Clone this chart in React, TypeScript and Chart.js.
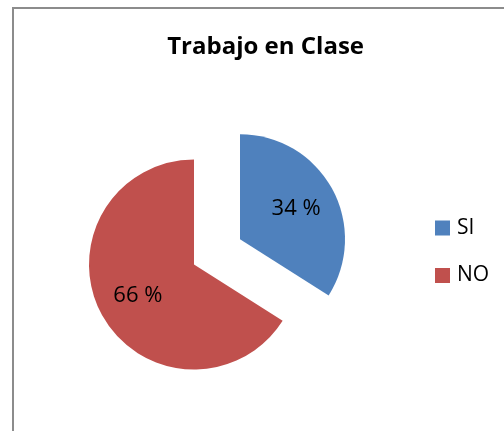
import React, { useEffect, useRef } from "react";
import { Chart, registerables } from "chart.js";

Chart.register(...registerables);

const chartTitle = "Trabajo en Clase";
const categories = ["SI", "NO"];
const values = [34, 66];
const colors = ["#4F81BD", "#C0504D"];
const explode = [210, 0];

const W = 504;
const H = 431;
const FONT = "'Open Sans', 'Noto Sans', 'DejaVu Sans', sans-serif";

// Keep an exploded slice at the same radius and angle as the rest of the pie
const explodeFix = {
  id: "explodeFix",
  afterDatasetsUpdate(chart: any) {
    chart.data.datasets.forEach((_ds: any, di: number) => {
      const meta = chart.getDatasetMeta(di);
      const R = meta.controller.outerRadius;
      meta.data.forEach((arc: any) => {
        const off = (arc.options.offset || 0) / 4;
        if (!off) return;
        const circ = arc.endAngle - arc.startAngle;
        const fix = 1 - Math.sin(Math.min(Math.PI, circ));
        const ro = off * fix;
        arc.outerRadius = R - ro;
        const a = ro / (Math.PI * R) / 2;
        arc.startAngle -= a;
        arc.endAngle += a;
      });
    });
  },
};

const sliceLabels = {
  id: "sliceLabels",
  afterDatasetsDraw(chart: any) {
    const meta = chart.getDatasetMeta(0);
    const ctx = chart.ctx;
    const R = meta.controller.outerRadius;
    meta.data.forEach((arc: any, i: number) => {
      const mid = (arc.startAngle + arc.endAngle) / 2;
      const off = (arc.options.offset || 0) / 4;
      const d = off + R * 0.61;
      const x = arc.x + Math.cos(mid) * d;
      const y = arc.y + Math.sin(mid) * d;
      ctx.save();
      ctx.font = `22px ${FONT}`;
      ctx.fillStyle = "#000";
      ctx.textAlign = "center";
      ctx.textBaseline = "middle";
      ctx.fillText(`${values[i]} %`, x, y);
      ctx.restore();
    });
  },
};

const sideLegend = {
  id: "sideLegend",
  afterDraw(chart: any) {
    const ctx = chart.ctx;
    const ca = chart.chartArea;
    const lx = ca.right + 71;
    const cy = (ca.top + ca.bottom) / 2;
    categories.forEach((c, i) => {
      const yc = cy - 36.5 + i * 47.5;
      ctx.save();
      ctx.fillStyle = colors[i];
      ctx.fillRect(lx, yc - 7.5, 15, 15);
      ctx.fillStyle = "#000";
      ctx.font = `21px ${FONT}`;
      ctx.textAlign = "left";
      ctx.textBaseline = "middle";
      ctx.fillText(c, lx + 22, yc);
      ctx.restore();
    });
  },
};

export default function App() {
  const ref = useRef<HTMLCanvasElement | null>(null);

  useEffect(() => {
    if (!ref.current) return;
    const chart = new Chart(ref.current, {
      type: "pie",
      data: {
        labels: categories,
        datasets: [
          {
            data: values,
            backgroundColor: colors,
            borderWidth: 0,
            offset: explode,
            radius: 105,
            clip: false,
          } as any,
        ],
      },
      options: {
        responsive: false,
        animation: false,
        events: [],
        layout: { padding: { left: 24, right: 140, top: 0, bottom: 0 } },
        plugins: {
          legend: { display: false },
          tooltip: { enabled: false },
          title: {
            display: true,
            text: chartTitle,
            align: "end",
            color: "#000",
            font: { family: FONT, size: 24, weight: "bold" },
            padding: { top: 32.6, bottom: 36.6 },
          },
        },
      } as any,
      plugins: [explodeFix, sliceLabels, sideLegend],
    });
    return () => chart.destroy();
  }, []);

  return (
    <div
      style={{
        position: "fixed",
        left: 0,
        top: 0,
        width: W,
        height: H,
        overflow: "hidden",
        background: "#fff",
      }}
    >
      <div
        style={{
          position: "absolute",
          left: 12,
          top: 7,
          width: 700,
          height: 700,
          borderLeft: "2px solid #8c8c8c",
          borderTop: "2px solid #8c8c8c",
        }}
      />
      <canvas
        ref={ref}
        width={W}
        height={H}
        style={{ position: "absolute", left: 0, top: 0, width: W, height: H }}
      />
    </div>
  );
}
